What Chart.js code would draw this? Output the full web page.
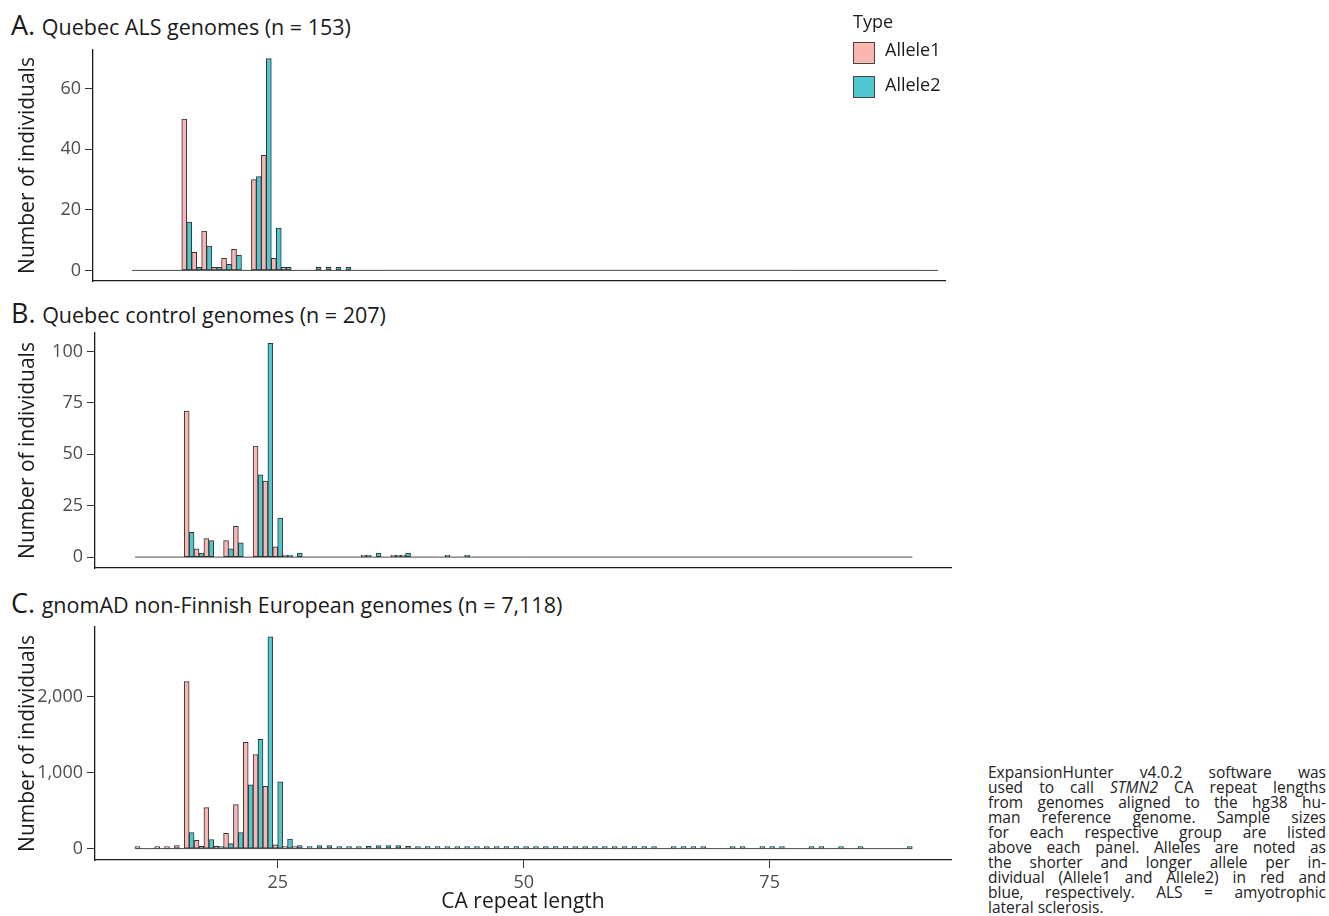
<!DOCTYPE html>
<html>
<head>
<meta charset="utf-8">
<script src="https://cdn.jsdelivr.net/npm/chart.js@4.4.1/dist/chart.umd.min.js"></script>
<style>
  body { margin: 0; background: #fff; width: 1329px; height: 916px; overflow: hidden; position: relative;
         font-family: 'Open Sans', sans-serif; color: #1a1a1a; }
  canvas { position: absolute; left: 0; }
  .ptitle { position: absolute; left: 11px; font-size: 21.5px; line-height: 30px; white-space: nowrap; }
  .ptitle .big { font-size: 27px; margin-right: 1px; }
  .lg { position: absolute; font-size: 18px; line-height: 24.5px; white-space: nowrap; }
  .sw { position: absolute; left: 853px; width: 22px; height: 22px; box-sizing: border-box; border: 1px solid #444; }
  #note { position: absolute; left: 988px; top: 765px; width: 338px; font-size: 15.5px; line-height: 15px; color: #222; }
  #note div { text-align: justify; text-align-last: justify; }
  #note div.last { text-align-last: left; }
</style>
</head>
<body>

<div class="ptitle" style="top:10px"><span class="big">A.</span> Quebec ALS genomes (n = 153)</div>
<div class="ptitle" style="top:298px"><span class="big">B.</span> Quebec control genomes (n = 207)</div>
<div class="ptitle" style="top:588px"><span class="big">C.</span> gnomAD non-Finnish European genomes (n = 7,118)</div>

<canvas id="panelA" width="960" height="271" style="top:30px"></canvas>
<canvas id="panelB" width="960" height="275" style="top:313px"></canvas>
<canvas id="panelC" width="960" height="309" style="top:607px"></canvas>

<div class="lg" style="left:853px;top:9px">Type</div>
<div class="sw" id="sw1" style="top:42px"></div>
<div class="lg" style="left:885px;top:37px">Allele1</div>
<div class="sw" id="sw2" style="top:76px"></div>
<div class="lg" style="left:885px;top:72px">Allele2</div>

<div id="note">
  <div>ExpansionHunter v4.0.2 software was</div>
  <div>used to call <i>STMN2</i> CA repeat lengths</div>
  <div>from genomes aligned to the hg38 hu-</div>
  <div>man reference genome. Sample sizes</div>
  <div>for each respective group are listed</div>
  <div>above each panel. Alleles are noted as</div>
  <div>the shorter and longer allele per in-</div>
  <div>dividual (Allele1 and Allele2) in red and</div>
  <div>blue, respectively. ALS = amyotrophic</div>
  <div class="last">lateral sclerosis.</div>
</div>

<script>
// CA repeat length -> number of individuals
// A. Quebec ALS genomes
const alsLen1 = [16, 17, 18, 19, 20, 21, 23, 24, 25, 26];
const alsCnt1 = [50, 6, 13, 1, 4, 7, 30, 38, 4, 1];
const alsLen2 = [16, 17, 18, 19, 20, 21, 23, 24, 25, 26, 29, 30, 31, 32];
const alsCnt2 = [16, 1, 8, 1, 2, 5, 31, 70, 14, 1, 1, 1, 1, 1];

// B. Quebec control genomes
const ctlLen1 = [16, 17, 18, 20, 21, 23, 24, 25, 26, 34, 37, 38];
const ctlCnt1 = [71, 4, 9, 8, 15, 54, 37, 5, 1, 1, 1, 1];
const ctlLen2 = [16, 17, 18, 20, 21, 23, 24, 25, 26, 27, 34, 35, 37, 38, 42, 44];
const ctlCnt2 = [12, 2, 8, 4, 7, 40, 104, 19, 1, 2, 1, 2, 1, 2, 1, 1];

// C. gnomAD non-Finnish European genomes
const nfeLen1 = [11, 13, 14, 15, 16, 17, 18, 19, 20, 21, 22, 23, 24, 25, 26, 27];
const nfeCnt1 = [6, 6, 8, 40, 2200, 110, 540, 30, 200, 580, 1400, 1240, 820, 50, 15, 10];
const nfeLen2 = [16, 17, 18, 19, 20, 21, 22, 23, 24, 25, 26, 27, 28, 29, 30, 31, 32, 33, 34, 35, 36, 37, 38,
                 39, 40, 41, 42, 43, 44, 45, 46, 47, 48, 49, 50, 51, 52, 53, 54, 55, 56, 57, 58, 59, 60, 61, 62, 63,
                 65, 66, 67, 68, 71, 72, 74, 75, 76, 79, 80, 82, 84, 89];
const nfeCnt2 = [210, 30, 120, 10, 65, 210, 840, 1440, 2790, 880, 125, 40, 26, 40, 40, 26, 26, 8, 30, 40, 40, 40, 30,
                 8, 7, 7, 6, 6, 6, 5, 5, 5, 5, 4, 4, 4, 4, 4, 4, 3, 3, 3, 3, 3, 3, 3, 3, 3,
                 3, 3, 3, 3, 2, 2, 2, 2, 2, 2, 2, 2, 2, 2];

// extent of the zero-count outline under each histogram
const baseA = [10.5, 91.5];
const baseB = [10.5, 89.5];
const baseC = [10.5, 89.5];

const yTicksA = [0, 20, 40, 60];
const yTicksB = [0, 25, 50, 75, 100];
const yTicksC = [0, 1000, 2000];
const xTicksC = [25, 50, 75];

const PINK = '#f9b6b2';
const TEAL = '#4ec8cf';
const EDGE = '#333333';
const FONT = "'Open Sans', sans-serif";

document.getElementById('sw1').style.background = PINK;
document.getElementById('sw2').style.background = TEAL;

function barSet(label, lens, counts, color, minLen) {
  return {
    type: 'bar',
    label,
    data: lens.map((x, i) => ({ x, y: counts[i] })),
    backgroundColor: color,
    borderColor: EDGE,
    borderWidth: 1,
    borderSkipped: false,
    barPercentage: 1,
    categoryPercentage: 1,
    minBarLength: minLen,
    order: 0,
  };
}

function baseSet(range) {
  return {
    type: 'line',
    data: range.map(x => ({ x, y: 0 })),
    borderColor: '#4a4a4a',
    borderWidth: 1,
    pointRadius: 0,
    order: 1,
  };
}

function makePanel(id, p) {
  const ctx = document.getElementById(id).getContext('2d');
  return new Chart(ctx, {
    type: 'bar',
    data: {
      datasets: [
        baseSet(p.base),
        barSet('Allele1', p.len1, p.cnt1, PINK, p.minLen),
        barSet('Allele2', p.len2, p.cnt2, TEAL, p.minLen),
      ],
    },
    options: {
      responsive: false,
      animation: false,
      layout: { padding: { top: 20, right: p.padRight, bottom: 0, left: 0 } },
      plugins: { legend: { display: false }, tooltip: { enabled: false } },
      scales: {
        x: {
          type: 'linear',
          min: p.xMin,
          max: p.xMax,
          offset: false,
          afterBuildTicks: s => { s.ticks = p.xTicks.map(v => ({ value: v })); },
          afterFit: s => { s.height = p.xAxisH; },
          grid: { display: p.showX, drawOnChartArea: false, offset: false, tickLength: 8, tickColor: '#333', tickWidth: 1 },
          border: { display: true, color: '#1a1a1a', width: 1.3 },
          ticks: { display: p.showX, padding: 4, color: '#4d4d4d', font: { family: FONT, size: 18 } },
          title: { display: p.showX, text: 'CA repeat length', color: '#1a1a1a',
                   font: { family: FONT, size: 21 }, padding: { top: 0, bottom: 1 } },
        },
        y: {
          type: 'linear',
          position: 'left',
          min: p.yMin,
          max: p.yMax,
          afterBuildTicks: s => { s.ticks = p.yTicks.map(v => ({ value: v })); },
          afterFit: s => { s.width = p.axisW; },
          grid: { drawOnChartArea: false, tickLength: 8, tickColor: '#333', tickWidth: 1 },
          border: { display: true, color: '#1a1a1a', width: 1.3 },
          ticks: { padding: 4, color: '#4d4d4d', font: { family: FONT, size: 18 },
                   callback: v => Number(v).toLocaleString('en-US') },
          title: { display: true, text: 'Number of individuals', color: '#1a1a1a',
                   font: { family: FONT, size: 21 }, padding: { top: 15, bottom: 0 } },
        },
      },
    },
  });
}

makePanel('panelA', {
  len1: alsLen1, cnt1: alsCnt1, len2: alsLen2, cnt2: alsCnt2, base: baseA,
  xMin: 6.58, xMax: 92.2, yMin: -3.5, yMax: 72.8, yTicks: yTicksA, xTicks: [],
  axisW: 93, padRight: 15, xAxisH: 20, showX: false, minLen: 0,
});

makePanel('panelB', {
  len1: ctlLen1, cnt1: ctlCnt1, len2: ctlLen2, cnt2: ctlCnt2, base: baseB,
  xMin: 6.43, xMax: 93.43, yMin: -5.3, yMax: 109, yTicks: yTicksB, xTicks: [],
  axisW: 95, padRight: 9, xAxisH: 20, showX: false, minLen: 0,
});

makePanel('panelC', {
  len1: nfeLen1, cnt1: nfeCnt1, len2: nfeLen2, cnt2: nfeCnt2, base: baseC,
  xMin: 6.43, xMax: 93.43, yMin: -150, yMax: 2920, yTicks: yTicksC, xTicks: xTicksC,
  axisW: 95, padRight: 9, xAxisH: 56, showX: true, minLen: 2,
});
</script>
</body>
</html>
